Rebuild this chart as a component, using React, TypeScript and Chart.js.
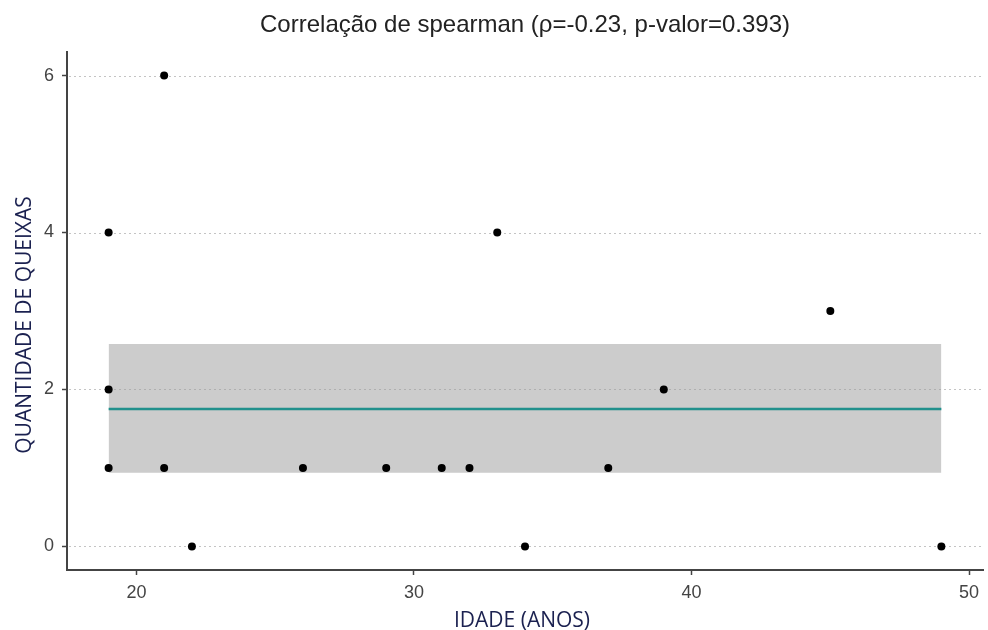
import React, { useEffect, useRef } from "react";
import { Chart, registerables } from "chart.js";

Chart.register(...registerables);

// Data
const ages = [19, 19, 19, 21, 21, 22, 26, 29, 31, 32, 33, 34, 37, 39, 45, 49];
const complaints = [4, 2, 1, 6, 1, 0, 1, 1, 1, 1, 4, 0, 1, 2, 3, 0];
const fitX = [19, 49];
const fitY = [1.75, 1.75];
const bandUpper = [2.58, 2.58];
const bandLower = [0.94, 0.94];
const xTicks = [20, 30, 40, 50];
const yTicks = [0, 2, 4, 6];

const chartTitle = "Correlação de spearman (ρ=-0.23, p-valor=0.393)";
const xTitle = "IDADE (ANOS)";
const yTitle = "QUANTIDADE DE QUEIXAS";

const dottedGridPlugin = {
  id: "dottedGrid",
  beforeDatasetsDraw(chart: any) {
    const ctx = chart.ctx;
    const area = chart.chartArea;
    const y = chart.scales.y;
    ctx.save();
    ctx.strokeStyle = "#c4c4c4";
    ctx.lineWidth = 1;
    ctx.setLineDash([2, 3]);
    yTicks.forEach((v) => {
      const py = Math.round(y.getPixelForValue(v)) + 0.5;
      ctx.beginPath();
      ctx.moveTo(area.left + 2, py);
      ctx.lineTo(area.right, py);
      ctx.stroke();
    });
    ctx.restore();
  },
};

const titlesPlugin = {
  id: "customTitles",
  afterDraw(chart: any) {
    const ctx = chart.ctx;
    const area = chart.chartArea;
    ctx.save();
    ctx.fillStyle = "#222222";
    ctx.font = '24px "Liberation Sans", Arial, sans-serif';
    ctx.textAlign = "center";
    ctx.textBaseline = "alphabetic";
    ctx.fillText(chartTitle, (area.left + area.right) / 2, 32);

    ctx.fillStyle = "#1b2150";
    ctx.font = '21px "Open Sans", sans-serif';
    ctx.fillText(xTitle, 522, 627);

    ctx.translate(31, 325);
    ctx.rotate(-Math.PI / 2);
    ctx.fillText(yTitle, 0, 0);
    ctx.restore();
  },
};

export default function App() {
  const ref = useRef<HTMLCanvasElement | null>(null);

  useEffect(() => {
    document.body.style.margin = "0";
    const canvas = ref.current;
    if (!canvas) return;

    const points = ages.map((a, i) => ({ x: a, y: complaints[i] }));
    const fitLine = fitX.map((x, i) => ({ x, y: fitY[i] }));
    const upper = fitX.map((x, i) => ({ x, y: bandUpper[i] }));
    const lower = fitX.map((x, i) => ({ x, y: bandLower[i] }));

    const tickFont = { family: '"Liberation Sans", Arial, sans-serif', size: 18 };

    const chart = new Chart(canvas, {
      type: "scatter",
      data: {
        datasets: [
          {
            label: "pontos",
            data: points,
            backgroundColor: "#000000",
            borderColor: "#000000",
            pointRadius: 4,
            pointBorderWidth: 0,
            order: 0,
          },
          {
            label: "ajuste",
            type: "line",
            data: fitLine,
            borderColor: "#21908c",
            borderWidth: 2.5,
            pointRadius: 0,
            fill: false,
            order: 1,
          },
          {
            label: "banda",
            type: "line",
            data: upper,
            borderWidth: 0,
            borderColor: "rgba(0,0,0,0)",
            pointRadius: 0,
            backgroundColor: "rgba(153,153,153,0.5)",
            fill: "+1",
            order: 2,
          },
          {
            label: "banda inferior",
            type: "line",
            data: lower,
            borderWidth: 0,
            borderColor: "rgba(0,0,0,0)",
            pointRadius: 0,
            fill: false,
            order: 3,
          },
        ],
      },
      options: {
        animation: false,
        responsive: false,
        devicePixelRatio: 1,
        layout: { padding: { top: 52, right: 5, left: 0, bottom: 0 } },
        plugins: {
          legend: { display: false },
          title: { display: false },
          tooltip: { enabled: false },
        },
        scales: {
          x: {
            type: "linear",
            min: 17.5,
            max: 50.5,
            afterFit: (s: any) => {
              s.height = 60;
            },
            afterBuildTicks: (s: any) => {
              s.ticks = xTicks.map((v) => ({ value: v }));
            },
            border: { display: true, color: "#444444", width: 2 },
            grid: {
              drawOnChartArea: false,
              drawTicks: true,
              tickLength: 5,
              tickColor: "#444444",
              tickWidth: 1.5,
            },
            ticks: {
              color: "#444444",
              font: tickFont,
              padding: 7,
              maxRotation: 0,
              autoSkip: false,
            },
          },
          y: {
            type: "linear",
            min: -0.3,
            max: 6.3,
            afterFit: (s: any) => {
              s.width = 67;
            },
            afterBuildTicks: (s: any) => {
              s.ticks = yTicks.map((v) => ({ value: v }));
            },
            border: { display: true, color: "#444444", width: 2 },
            grid: {
              drawOnChartArea: false,
              drawTicks: true,
              tickLength: 5,
              tickColor: "#444444",
              tickWidth: 1.5,
            },
            ticks: {
              color: "#444444",
              font: tickFont,
              padding: 8,
              autoSkip: false,
            },
          },
        },
      },
      plugins: [dottedGridPlugin, titlesPlugin],
    } as any);

    return () => chart.destroy();
  }, []);

  return (
    <div style={{ position: "absolute", left: 0, top: 0, width: 988, height: 630, background: "#ffffff" }}>
      <canvas ref={ref} width={988} height={630} style={{ width: 988, height: 630, display: "block" }} />
    </div>
  );
}
